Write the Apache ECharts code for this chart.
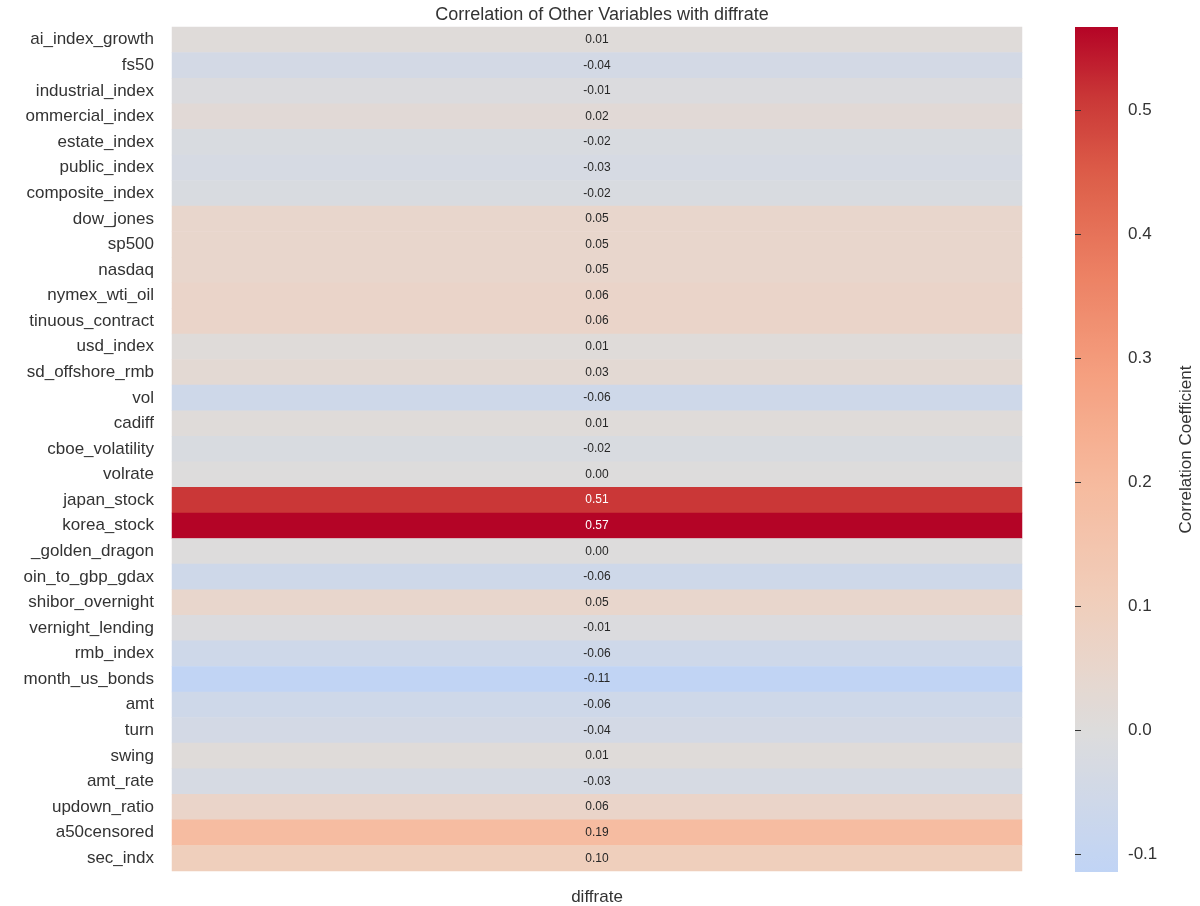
<!DOCTYPE html>
<html>
<head>
<meta charset="utf-8">
<script src="https://cdn.jsdelivr.net/npm/echarts@6/dist/echarts.min.js"></script>
<style>html,body{margin:0;background:#fff}#main{width:1200px;height:906px}</style>
</head>
<body>
<div id="main"></div>
<script>
var variables = ['ai_index_growth', 'fs50', 'industrial_index', 'ommercial_index', 'estate_index',
    'public_index', 'composite_index', 'dow_jones', 'sp500', 'nasdaq', 'nymex_wti_oil',
    'tinuous_contract', 'usd_index', 'sd_offshore_rmb', 'vol', 'cadiff', 'cboe_volatility',
    'volrate', 'japan_stock', 'korea_stock', '_golden_dragon', 'oin_to_gbp_gdax',
    'shibor_overnight', 'vernight_lending', 'rmb_index', 'month_us_bonds', 'amt', 'turn',
    'swing', 'amt_rate', 'updown_ratio', 'a50censored', 'sec_indx'];
var corr = [0.01, -0.04, -0.01, 0.02, -0.02, -0.03, -0.02, 0.05, 0.05, 0.05, 0.06, 0.06, 0.01,
    0.03, -0.06, 0.01, -0.02, 0.00, 0.51, 0.57, 0.00, -0.06, 0.05, -0.01, -0.06, -0.11, -0.06,
    -0.04, 0.01, -0.03, 0.06, 0.19, 0.10];
var column = ['diffrate'];
var barTicks = [-0.1, 0, 0.1, 0.2, 0.3, 0.4, 0.5];

var vmin = -0.114, vmax = 0.567;
// coolwarm stops (value, rgb)
var stops = [
    [-0.114, [192, 212, 245]], [0, [221, 220, 220]], [0.06, [234, 213, 201]],
    [0.114, [241, 204, 184]], [0.2, [246, 186, 158]], [0.285, [245, 160, 128]],
    [0.37, [236, 128, 99]], [0.45, [220, 92, 72]], [0.51, [202, 55, 55]], [0.567, [180, 4, 38]]
];
function colorAt(v) {
    for (var i = 1; i < stops.length; i++) {
        if (v <= stops[i][0]) {
            var a = stops[i - 1], b = stops[i], t = (v - a[0]) / (b[0] - a[0]);
            return 'rgb(' + a[1].map(function (c, k) { return Math.round(c + (b[1][k] - c) * t); }).join(',') + ')';
        }
    }
    return 'rgb(180,4,38)';
}
var ramp = [];
for (var i = 0; i <= 100; i++) ramp.push(colorAt(vmin + (vmax - vmin) * i / 100));
var gradStops = ramp.map(function (c, i) { return {offset: i / 100, color: c}; });

var cells = corr.map(function (v, i) {
    return {value: [0, i, v], label: {color: v > 0.4 ? '#fff' : '#262626'}};
});
var font = 'Liberation Sans';

var myChart = echarts.init(document.getElementById('main'));
myChart.setOption({
    backgroundColor: '#fff',
    title: {
        text: 'Correlation of Other Variables with diffrate',
        left: 597, textAlign: 'center', top: 1,
        textStyle: {fontSize: 18, fontWeight: 'normal', color: '#333', fontFamily: font}
    },
    grid: [
        {left: 172, right: 178, top: 27, bottom: 34},
        {left: 1075, width: 43, top: 27, bottom: 34, show: true, borderWidth: 0,
         backgroundColor: new echarts.graphic.LinearGradient(0, 1, 0, 0, gradStops)}
    ],
    xAxis: [
        {type: 'category', data: column, gridIndex: 0, axisLine: {show: false}, axisTick: {show: false},
         axisLabel: {fontSize: 17, color: '#333', margin: 18, fontFamily: font}},
        {type: 'value', gridIndex: 1, show: false}
    ],
    yAxis: [
        {type: 'category', data: variables, inverse: true, gridIndex: 0, axisLine: {show: false},
         axisTick: {show: false}, axisLabel: {fontSize: 17, color: '#333', margin: 18, fontFamily: font}},
        {type: 'value', gridIndex: 1, position: 'right', min: vmin, max: vmax,
         splitLine: {show: false}, axisLine: {show: false},
         axisTick: {show: true, length: 6, customValues: barTicks, lineStyle: {color: '#333'}},
         axisLabel: {fontSize: 17, color: '#333', customValues: barTicks, margin: 10,
             fontFamily: font, formatter: function (v) { return v.toFixed(1); }},
         name: 'Correlation Coefficient', nameLocation: 'middle', nameGap: 60, nameRotate: 90,
         nameTextStyle: {fontSize: 17, color: '#333', fontFamily: font}}
    ],
    visualMap: {
        type: 'continuous', min: vmin, max: vmax, seriesIndex: 0, show: false,
        inRange: {color: ramp}
    },
    series: [{
        type: 'heatmap', data: cells, xAxisIndex: 0, yAxisIndex: 0,
        label: {show: true, fontSize: 12, fontFamily: font,
            formatter: function (p) { return p.value[2].toFixed(2); }},
        itemStyle: {borderWidth: 0}
    }]
});
</script>
</body>
</html>
